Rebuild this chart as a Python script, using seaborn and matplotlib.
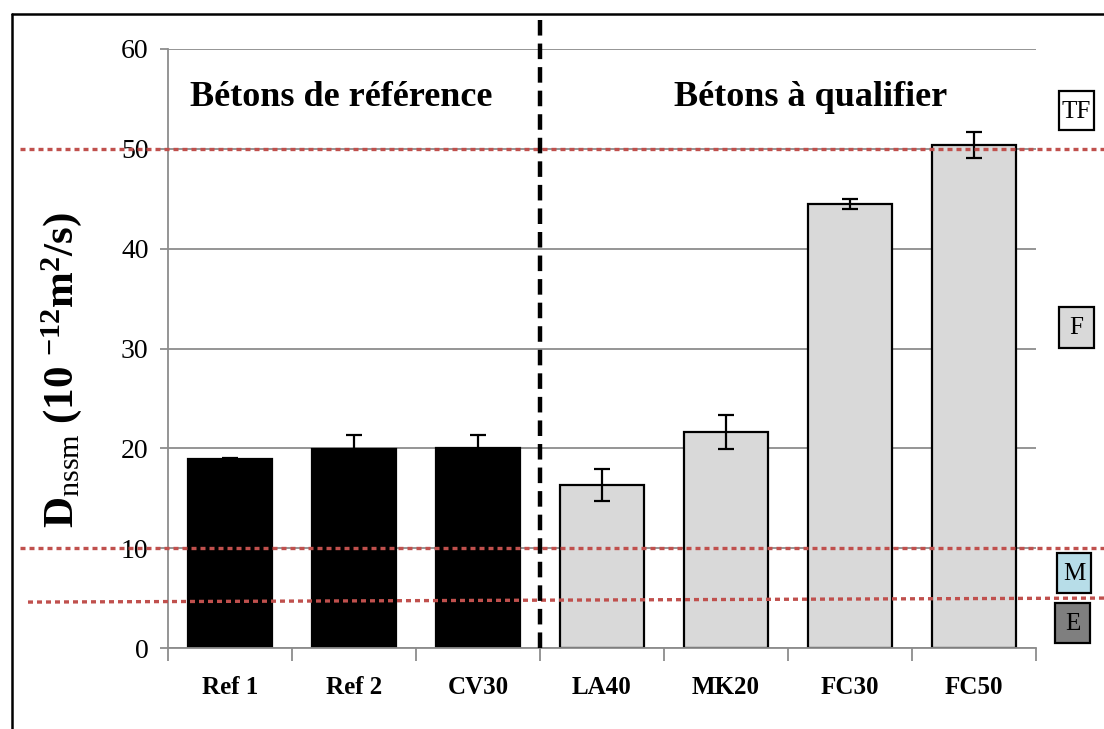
import numpy as np
import pandas as pd
import matplotlib
matplotlib.use("Agg")
import matplotlib.pyplot as plt
import matplotlib.transforms as mtransforms
from matplotlib.patches import Rectangle
from matplotlib.lines import Line2D
import seaborn as sns

# Data
categories = ["Ref 1", "Ref 2", "CV30", "LA40", "MK20", "FC30", "FC50"]
groups = ["ref", "ref", "ref", "qual", "qual", "qual", "qual"]
dnssm = [18.9, 19.9, 20.0, 16.3, 21.6, 44.5, 50.4]
dnssm_err = [0.1, 1.4, 1.3, 1.6, 1.7, 0.5, 1.3]
class_limits = [50.0, 10.0]
e_limit_left, e_limit_right = 4.6, 5.0
class_labels = ["TF", "F", "M", "E"]
group_titles = ["Bétons de référence", "Bétons à qualifier"]

df = pd.DataFrame({"beton": categories, "groupe": groups, "D": dnssm})

sns.set_theme(style="white")
plt.rcParams["font.family"] = ["Liberation Serif", "DejaVu Serif"]
plt.rcParams["mathtext.fontset"] = "custom"
plt.rcParams["mathtext.rm"] = "Liberation Serif"
plt.rcParams["mathtext.bf"] = "Liberation Serif:bold"
plt.rcParams["mathtext.it"] = "Liberation Serif:italic"
plt.rcParams["text.color"] = "black"
plt.rcParams["xtick.color"] = "black"
plt.rcParams["ytick.color"] = "black"
plt.rcParams["axes.labelcolor"] = "black"

fig = plt.figure(figsize=(11.04, 7.29), dpi=100)
ax = fig.add_axes([168 / 1104, 1 - 648 / 729, 868 / 1104, 599 / 729])

grid_c = "#8c8c8c"
ax.set_ylim(0, 60)
ax.set_xlim(-0.5, 6.5)
ax.set_yticks(np.arange(0, 61, 10))
ax.yaxis.grid(True, color=grid_c, lw=1.3, zorder=0)
ax.set_axisbelow(True)

sns.barplot(data=df, x="beton", y="D", hue="groupe",
            palette={"ref": "#000000", "qual": "#d9d9d9"},
            dodge=False, width=0.68, errorbar=None, legend=False,
            edgecolor="black", linewidth=1.6, ax=ax, zorder=2)
ax.set_xlim(-0.5, 6.5)

xpos = np.arange(len(categories))
ax.errorbar(xpos, dnssm, yerr=dnssm_err, fmt="none", ecolor="black",
            elinewidth=1.6, capsize=6, capthick=1.6, zorder=4)

# Spines and ticks
for s in ["top", "right"]:
    ax.spines[s].set_visible(False)
for s in ["left", "bottom"]:
    ax.spines[s].set_color(grid_c)
    ax.spines[s].set_linewidth(1.3)
ax.set_xticks(np.arange(-0.5, 7, 1))
ax.set_xticklabels([])
ax.set_xticks(xpos, minor=True)
ax.set_xticklabels(categories, minor=True, fontsize=18, fontweight="bold")
ax.tick_params(axis="x", which="major", length=9, width=1.3, color=grid_c,
               direction="out", bottom=True)
ax.tick_params(axis="x", which="minor", length=0, pad=20, labelcolor="black")
ax.tick_params(axis="y", length=6, width=1.3, color=grid_c, direction="out",
               left=True, labelsize=20, pad=8, labelcolor="black")
ax.set_xlabel("")
ax.set_ylabel("")

# Class limit lines, running across the whole figure width
red = "#c0504d"
trans = mtransforms.blended_transform_factory(fig.transFigure, ax.transData)
for v in class_limits:
    ax.add_line(Line2D([20 / 1104, 1.0], [v, v], transform=trans, color=red,
                       lw=2.4, dashes=(1.5, 1.2), clip_on=False, zorder=5))
ax.add_line(Line2D([28 / 1104, 1.0], [e_limit_left, e_limit_right],
                   transform=trans, color=red, lw=2.4, dashes=(1.5, 1.2),
                   clip_on=False, zorder=5))

# Separation between the two families of concrete
vtrans = mtransforms.blended_transform_factory(ax.transData, ax.transAxes)
ax.add_line(Line2D([2.5, 2.5], [0, (648 - 14) / 599], transform=vtrans,
                   color="black", lw=3.2, dashes=(3.5, 1.8), clip_on=False,
                   zorder=6))

# Group titles
ax.text(190 / 1104, 1 - 97 / 729, group_titles[0], transform=fig.transFigure,
        fontsize=26, fontweight="bold", ha="left", va="center")
ax.text(811 / 1104, 1 - 97 / 729, group_titles[1], transform=fig.transFigure,
        fontsize=26, fontweight="bold", ha="center", va="center")

# Y label
fig.text(62 / 1104, 1 - 370 / 729,
         r"$\mathbf{D}_{\mathrm{nssm}}\ \mathbf{(10\ ^{-12}m^{2}/s)}$",
         rotation=90, ha="center", va="center", fontsize=31)

# Class boxes
boxes = [(1059, 91, 35, 39, "white"), (1059, 307, 35, 41, "#d9d9d9"),
         (1057, 553, 34, 40, "#b7dde8"), (1055, 603, 35, 40, "#7f7f7f")]
for (x0, y0, w, h, fc), lab in zip(boxes, class_labels):
    fig.patches.append(Rectangle((x0 / 1104, 1 - (y0 + h) / 729), w / 1104, h / 729,
                                 transform=fig.transFigure, facecolor=fc,
                                 edgecolor="black", lw=1.6, zorder=7))
    fig.text((x0 + w / 2) / 1104, 1 - (y0 + h / 2 + 1) / 729, lab, ha="center",
             va="center", fontsize=18, zorder=8)

# Frame around the figure
fig.add_artist(Line2D([12 / 1104, 1.0], [1 - 14 / 729, 1 - 14 / 729],
                      transform=fig.transFigure, color="black", lw=1.8))
fig.add_artist(Line2D([12 / 1104, 12 / 1104], [0, 1 - 14 / 729],
                      transform=fig.transFigure, color="black", lw=1.8))

fig.savefig("out.png", dpi=100)
